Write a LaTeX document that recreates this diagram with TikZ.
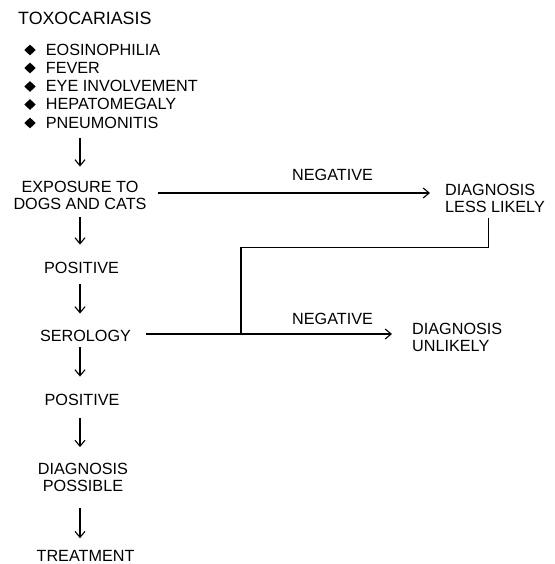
\documentclass[tikz,border=0pt]{standalone}
\usepackage{fontspec}
\setmainfont{Liberation Sans}
\usetikzlibrary{arrows.meta,shapes.geometric,calc}
\begin{document}
\begin{tikzpicture}[x=1pt,y=-1pt,
  txt/.style={inner sep=0pt,font=\fontsize{16.2}{17}\selectfont},
  ttl/.style={inner sep=0pt,font=\fontsize{17.8}{20}\selectfont},
  bul/.style={diamond,fill=black,inner sep=0pt,minimum width=11.5pt,minimum height=11pt},
  ln/.style={line width=1.1pt},
  arr/.style={ln,-{Straight Barb[length=6pt,width=10pt]}}]
\useasboundingbox (0,0) rectangle (554,564);
% title and list
\node[ttl,anchor=west] (title) at (18,18) {TOXOCARIASIS};
\node[txt,anchor=west] (eos) at (45.7,49.5) {EOSINOPHILIA};
\node[txt,anchor=west] (fev) at (45.7,67.5) {FEVER};
\node[txt,anchor=west] (eye) at (45.7,86) {EYE INVOLVEMENT};
\node[txt,anchor=west] (hep) at (45.7,104) {HEPATOMEGALY};
\node[txt,anchor=west] (pneu) at (45.7,122.5) {PNEUMONITIS};
\node[bul] (b1) at (30,50) {};
\node[bul] (b2) at (30,68) {};
\node[bul] (b3) at (30,86.5) {};
\node[bul] (b4) at (30,104.5) {};
\node[bul] (b5) at (30,123) {};
% main column
\node[txt,align=center] (expo) at (80,195) {EXPOSURE TO\\DOGS AND CATS};
\node[txt] (pos1) at (81.5,267.5) {POSITIVE};
\node[txt] (sero) at (85.5,335.5) {SEROLOGY};
\node[txt] (pos2) at (82,399.5) {POSITIVE};
\node[txt,align=center] (dpos) at (83,477.5) {DIAGNOSIS\\POSSIBLE};
\node[txt] (treat) at (85.5,556) {TREATMENT};
% right side
\node[txt,anchor=west,align=left] (dless) at (445,198) {DIAGNOSIS\\LESS LIKELY};
\node[txt,anchor=west,align=left] (dunl) at (412,337) {DIAGNOSIS\\UNLIKELY};
\node[txt] (neg1) at (332.5,175) {NEGATIVE};
\node[txt] (neg2) at (332.5,319) {NEGATIVE};
% vertical arrows
\coordinate (col) at (80,0);
\draw[arr,shorten <=10pt,shorten >=14pt] (col |- pneu.south) -- (col |- expo.north);
\draw[arr,shorten <=7.5pt,shorten >=17pt] (col |- expo.south) -- (col |- pos1.north);
\draw[arr,shorten <=11pt,shorten >=16pt] (col |- pos1.south) -- (col |- sero.north);
\draw[arr,shorten <=6pt,shorten >=17pt] (col |- sero.south) -- (col |- pos2.north);
\draw[arr,shorten <=13pt,shorten >=16pt] (col |- pos2.south) -- (col |- dpos.north);
\draw[arr,shorten <=16pt,shorten >=12pt] (col |- dpos.south) -- (col |- treat.north);
% horizontal arrows
\draw[arr,shorten <=11pt,shorten >=15pt] ([yshift=2pt]expo.east) -- ([yshift=2pt]expo.east -| dless.west);
\draw[arr,shorten <=15pt,shorten >=20pt] ([yshift=1.5pt]sero.east) -- ([yshift=1.5pt]sero.east -| dunl.west);
% feedback line
\coordinate (j) at (241,334);
\draw[ln] ([xshift=-6.5pt]dless.south) ++(0,6) -- ++(0,29) -| (j);
\end{tikzpicture}
\end{document}
